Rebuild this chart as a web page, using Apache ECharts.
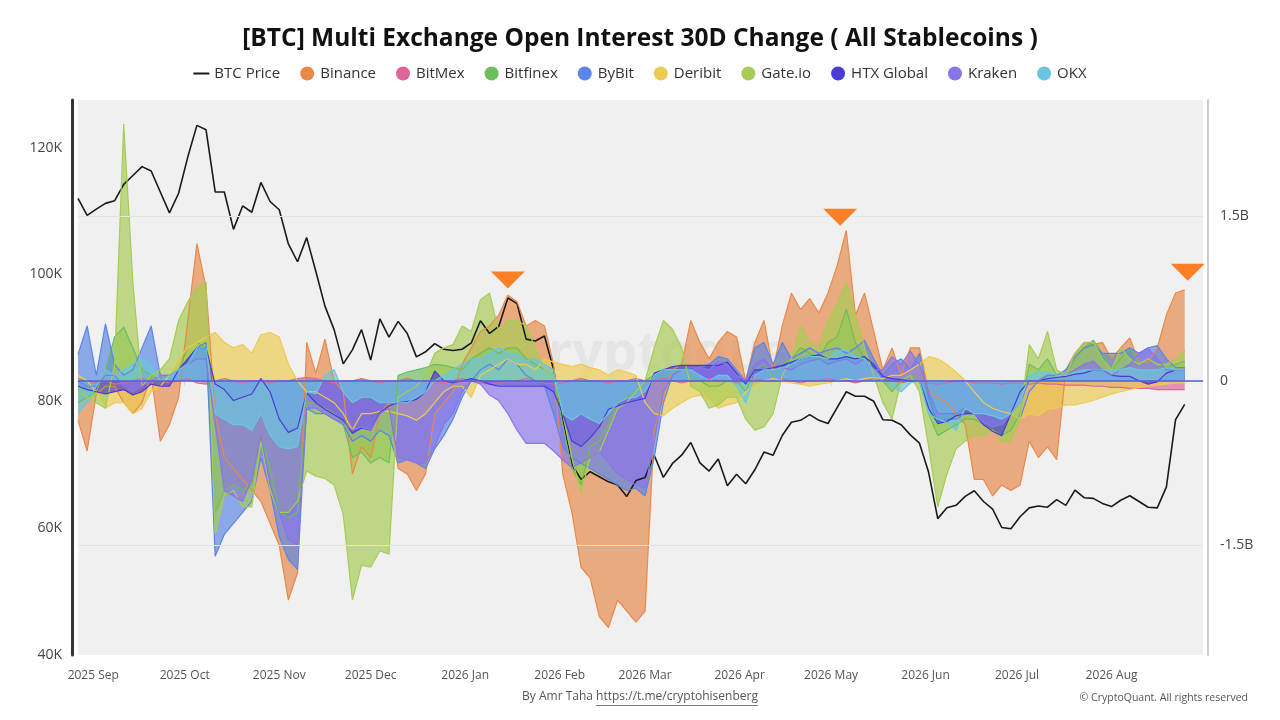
<!DOCTYPE html>
<html>
<head>
<meta charset="utf-8">
<title>[BTC] Multi Exchange Open Interest 30D Change</title>
<script src="https://cdn.jsdelivr.net/npm/echarts@6/dist/echarts.min.js"></script>
<style>
    html, body { margin: 0; padding: 0; background: #fff; }
    #chart { width: 1280px; height: 720px; }
</style>
</head>
<body>
<div id="chart"></div>
<script>
    "use strict";
    // sampling grid: one point every 3 days from 2025-08-27
    var startDate = [2025, 7, 27];
    var stepDays = 3;
    var pointCount = 122;

    var monthNames = ["Jan", "Feb", "Mar", "Apr", "May", "Jun", "Jul", "Aug", "Sep", "Oct", "Nov", "Dec"];

    // BTC price, thousands of USD
    var btcPrice = [
        112.0, 109.3, 110.3, 111.2, 111.6, 114.2, 115.6, 117.0, 116.3, 113.0,
        109.7, 112.8, 118.5, 123.5, 122.8, 113.0, 113.0, 107.1, 110.8, 109.8,
        114.5, 111.5, 110.2, 104.8, 102.0, 105.8, 100.5, 95.0, 91.3, 85.9,
        88.1, 91.3, 86.5, 93.0, 90.1, 92.6, 90.7, 87.0, 87.8, 89.1,
        88.2, 88.0, 88.2, 89.2, 92.7, 90.7, 91.8, 96.3, 95.4, 89.8,
        89.5, 90.3, 85.0, 77.0, 70.0, 67.7, 68.9, 68.1, 67.3, 66.8,
        65.0, 67.5, 68.0, 71.5, 68.0, 70.2, 71.5, 73.5, 70.3, 69.0,
        70.9, 66.7, 68.5, 67.0, 69.2, 72.0, 71.5, 74.6, 76.7, 77.0,
        77.9, 77.0, 76.5, 79.0, 81.5, 80.8, 80.8, 80.0, 77.1, 77.0,
        76.3, 74.7, 73.4, 68.8, 61.5, 63.2, 63.6, 65.0, 65.9, 64.2,
        63.0, 60.1, 59.9, 61.8, 63.2, 63.5, 63.3, 64.5, 63.6, 66.0,
        64.8, 64.7, 63.9, 63.4, 64.4, 65.1, 64.2, 63.3, 63.2, 66.5,
        77.1, 79.5
    ];

    // open interest 30D change, billions of USD
    var binance = [
        -0.36, -0.64, -0.12, -0.05, -0.05, -0.2, -0.3, -0.2, 0.05, -0.55,
        -0.4, -0.15, 0.55, 1.25, 0.85, -0.3, -0.7, -0.8, -0.9, -1.0,
        -1.1, -1.3, -1.5, -2.0, -1.75, 0.35, 0.07, 0.38, 0.0, -0.1,
        -0.85, -0.6, -0.7, -0.3, -0.2, -0.8, -0.85, -1.0, -0.85, -0.3,
        -0.2, -0.1, 0.15, 0.3, 0.45, 0.5, 0.6, 0.78, 0.72, 0.5,
        0.55, 0.5, 0.15, -0.85, -1.2, -1.7, -1.8, -2.15, -2.25, -2.0,
        -2.1, -2.2, -2.1, -0.45, -0.15, 0.1, 0.15, 0.55, 0.35, 0.2,
        0.35, 0.45, 0.4, 0.0, 0.35, 0.55, 0.1, 0.5, 0.8, 0.65,
        0.75, 0.62, 0.8, 1.05, 1.37, 0.6, 0.8, 0.45, 0.1, 0.3,
        0.05, 0.3, 0.3, -0.1, -0.15, -0.2, -0.3, -0.4, -0.9, -0.9,
        -1.05, -0.95, -1.0, -0.95, -0.55, -0.7, -0.6, -0.72, 0.1, 0.25,
        0.35, 0.33, 0.35, 0.2, 0.3, 0.39, 0.17, 0.17, 0.3, 0.6,
        0.8, 0.83
    ];
    var bitmex = [
        0.02, 0.0, -0.02, 0.0, -0.03, -0.02, 0.0, 0.02, 0.0, 0.0,
        -0.02, 0.0, 0.02, -0.02, -0.03, 0.0, 0.02, 0.0, -0.02, 0.0,
        0.0, -0.02, 0.0, 0.0, 0.02, 0.03, 0.02, 0.0, -0.02, 0.0,
        0.0, 0.02, 0.0, -0.02, 0.0, 0.0, 0.02, 0.0, 0.0, -0.02,
        -0.02, 0.0, 0.02, 0.0, -0.02, -0.03, -0.02, 0.0, 0.0, 0.02,
        0.0, -0.02, -0.03, -0.02, 0.0, 0.02, 0.0, 0.0, -0.02, 0.0,
        0.0, 0.02, 0.0, 0.0, 0.02, 0.0, -0.02, 0.0, 0.0, 0.02,
        0.0, 0.0, -0.02, 0.0, 0.02, 0.0, 0.0, 0.02, 0.0, -0.02,
        0.0, 0.0, 0.02, 0.0, 0.0, -0.02, 0.0, 0.02, 0.0, 0.0,
        -0.02, 0.0, 0.0, -0.02, -0.03, -0.02, 0.0, 0.0, -0.02, -0.02,
        -0.02, -0.03, -0.02, -0.02, -0.03, -0.02, -0.03, -0.03, -0.04, -0.04,
        -0.04, -0.05, -0.05, -0.06, -0.06, -0.07, -0.07, -0.07, -0.08, -0.08,
        -0.08, -0.08
    ];
    var bitfinex = [
        -0.2, -0.15, -0.1, 0.1, 0.4, 0.49, 0.3, 0.1, 0.05, 0.0,
        0.05, 0.1, 0.3, 0.35, 0.3, -1.2, -1.0, -0.95, -1.0, -0.95,
        -0.5, -0.8, -1.2, -1.25, -1.2, -0.2, -0.2, -0.25, -0.3, -0.4,
        -0.7, -0.65, -0.75, -0.7, -0.75, 0.05, 0.08, 0.1, 0.12, 0.15,
        0.14, 0.12, 0.1, 0.2, 0.25, 0.3, 0.25, 0.3, 0.3, 0.2,
        0.15, 0.1, 0.05, -0.4, -0.8, -0.95, -0.6, -0.55, -0.4, -0.2,
        -0.15, -0.1, 0.0, 0.05, 0.1, 0.1, 0.1, 0.05, 0.0, -0.05,
        -0.05, 0.0, 0.0, -0.1, 0.1, 0.15, 0.05, 0.15, 0.2, 0.3,
        0.25, 0.2, 0.35, 0.4, 0.65, 0.35, 0.2, 0.1, 0.0, -0.1,
        0.0, 0.05, 0.0, -0.3, -0.5, -0.45, -0.4, -0.35, -0.35, -0.4,
        -0.45, -0.5, -0.45, -0.3, 0.15, 0.1, 0.2, 0.05, 0.05, 0.2,
        0.3, 0.37, 0.25, 0.1, 0.2, 0.3, 0.15, 0.2, 0.15, 0.12,
        0.15, 0.18
    ];
    var bybit = [
        0.24, 0.5, 0.05, 0.52, 0.15, 0.05, 0.1, 0.3, 0.5, 0.05,
        0.05, 0.1, 0.2, 0.3, 0.35, -1.6, -1.4, -1.3, -1.2, -1.1,
        -0.7, -1.0, -1.42, -1.63, -1.72, -0.25, -0.3, -0.3, -0.35, -0.4,
        -0.55, -0.5, -0.55, -0.45, -0.5, -0.75, -0.72, -0.75, -0.8, -0.62,
        -0.5, -0.35, -0.15, 0.0, 0.1, 0.15, 0.1, 0.2, 0.15, 0.05,
        0.0, -0.05, -0.3, -0.6, -0.7, -0.75, -0.8, -0.85, -0.9, -0.95,
        -1.0, -0.98, -1.05, -0.7, -0.2, 0.05, 0.1, 0.12, 0.12, 0.15,
        0.22, 0.2, 0.1, 0.0, 0.3, 0.35, 0.15, 0.35, 0.2, 0.25,
        0.3, 0.25, 0.28, 0.3, 0.25, 0.3, 0.37, 0.2, 0.05, 0.15,
        0.2, 0.1, 0.25, -0.15, -0.39, -0.35, -0.35, -0.3, -0.3, -0.4,
        -0.37, -0.4, -0.3, -0.35, -0.1, 0.0, 0.05, 0.05, 0.1, 0.22,
        0.3, 0.33, 0.25, 0.25, 0.25, 0.3, 0.25, 0.3, 0.32, 0.2,
        0.12, 0.12
    ];
    var deribit = [
        0.05, 0.0, -0.1, -0.25, -0.2, -0.2, -0.3, -0.25, -0.1, -0.05,
        0.05, 0.2, 0.3, 0.35, 0.4, 0.44, 0.35, 0.3, 0.33, 0.25,
        0.42, 0.44, 0.4, 0.15, 0.0, -0.1, -0.1, -0.15, -0.2, -0.3,
        -0.45, -0.3, -0.3, -0.28, -0.28, -0.3, -0.32, -0.36, -0.3, -0.2,
        -0.1, -0.05, -0.05, -0.15, 0.05, 0.1, 0.15, 0.2, 0.15, 0.15,
        0.1, 0.2, 0.17, 0.15, 0.13, 0.15, 0.12, 0.1, 0.05, 0.1,
        0.08, 0.05, -0.2, -0.3, -0.32, -0.25, -0.2, -0.15, -0.13, -0.18,
        -0.25, -0.22, -0.2, -0.1, -0.05, 0.0, 0.02, 0.0, -0.02, -0.03,
        -0.05, -0.03, -0.02, 0.0, 0.02, 0.0, 0.02, 0.03, 0.02, 0.05,
        0.05, 0.1, 0.15, 0.22, 0.2, 0.15, 0.08, 0.0, -0.1, -0.2,
        -0.25, -0.28, -0.3, -0.35, -0.3, -0.32, -0.26, -0.25, -0.22, -0.22,
        -0.2, -0.18, -0.15, -0.12, -0.1, -0.08, -0.06, -0.05, -0.04, -0.03,
        -0.02, -0.02
    ];
    var gateio = [
        -0.1, -0.15, -0.2, -0.25, 0.15, 2.34, 0.9, -0.05, 0.05, 0.1,
        0.2, 0.55, 0.72, 0.85, 0.9, -1.4, -1.05, -1.0, -1.15, -1.15,
        -0.55, -1.0, -1.2, -1.2, -1.1, -0.82, -0.87, -0.89, -0.95, -1.22,
        -2.0, -1.68, -1.7, -1.55, -1.58, -0.15, -0.1, -0.05, 0.05, 0.25,
        0.3, 0.33, 0.5, 0.45, 0.74, 0.8, 0.45, 0.55, 0.55, 0.5,
        0.3, 0.1, 0.05, -0.3, -0.7, -1.02, -0.7, -0.65, -0.45, -0.25,
        -0.2, -0.1, 0.0, 0.3, 0.55, 0.47, 0.3, -0.05, -0.1, -0.25,
        -0.22, -0.15, -0.15, -0.35, -0.45, -0.42, -0.3, 0.05, 0.2, 0.5,
        0.35, 0.3, 0.55, 0.7, 0.9, 0.6, 0.3, 0.05, -0.2, -0.35,
        0.0, 0.05, -0.1, -0.6, -1.15, -0.85, -0.62, -0.55, -0.5, -0.5,
        -0.45, -0.56, -0.55, -0.35, 0.33, 0.2, 0.45, 0.1, 0.05, 0.25,
        0.35, 0.35, 0.2, 0.1, 0.3, 0.2, 0.15, 0.2, 0.15, 0.15,
        0.2, 0.28
    ];
    var htx = [
        -0.05, -0.08, -0.1, -0.12, -0.1, -0.08, -0.13, -0.1, -0.03, -0.05,
        -0.05, 0.1, 0.2, 0.3, 0.3, -0.03, -0.08, -0.18, -0.15, -0.12,
        0.02, -0.1, -0.35, -0.47, -0.43, -0.11, -0.2, -0.26, -0.31, -0.36,
        -0.48, -0.43, -0.45, -0.29, -0.23, -0.2, -0.19, -0.17, -0.1, 0.09,
        0.0, -0.02, 0.0, 0.02, 0.0, -0.03, -0.05, -0.05, -0.05, -0.05,
        -0.05, -0.05, -0.1, -0.3, -0.55, -0.6, -0.52, -0.42, -0.26, -0.23,
        -0.2, -0.18, -0.16, 0.07, 0.1, 0.13, 0.14, 0.14, 0.14, 0.14,
        0.14, 0.17, 0.07, -0.03, 0.1, 0.1, 0.12, 0.14, 0.17, 0.2,
        0.22, 0.24, 0.2, 0.2, 0.22, 0.2, 0.22, 0.15, 0.04, 0.02,
        0.01, 0.0, 0.0, -0.25, -0.39, -0.37, -0.32, -0.3, -0.3, -0.4,
        -0.46, -0.5, -0.3, -0.1, 0.0, 0.0, 0.02, 0.03, 0.04, 0.06,
        0.07, 0.1, 0.1, 0.05, 0.04, 0.04, 0.0, -0.03, -0.01, 0.07,
        0.1, 0.1
    ];
    var kraken = [
        0.0, -0.05, -0.05, 0.05, 0.05, -0.05, -0.1, -0.05, 0.0, 0.05,
        0.05, 0.1, 0.15, 0.2, 0.2, -0.4, -1.0, -1.05, -1.1, -0.9,
        -0.5, -0.95, -1.2, -1.45, -1.5, -0.25, -0.25, -0.3, -0.35, -0.38,
        -0.45, -0.42, -0.45, -0.3, -0.25, -0.7, -0.72, -0.75, -0.75, -0.6,
        -0.4, -0.3, -0.1, 0.0, -0.03, -0.13, -0.18, -0.3, -0.45, -0.57,
        -0.57, -0.57, -0.64, -0.72, -0.79, -0.75, -0.7, -0.65, -0.75, -0.85,
        -0.9, -0.95, -0.98, -0.55, -0.1, 0.05, 0.1, 0.1, 0.12, 0.1,
        0.18, 0.15, 0.05, 0.0, 0.15, 0.2, 0.1, 0.12, 0.1, 0.15,
        0.18, 0.2, 0.15, 0.18, 0.2, 0.15, 0.2, 0.1, 0.1, 0.22,
        0.15, 0.27, 0.15, -0.1, -0.3, -0.3, -0.3, -0.25, -0.3, -0.38,
        -0.42, -0.4, -0.3, -0.2, 0.0, 0.0, 0.05, 0.05, 0.05, 0.1,
        0.15, 0.18, 0.1, 0.05, 0.1, 0.15, 0.25, 0.3, 0.2, 0.1,
        0.1, 0.1
    ];
    var okx = [
        -0.3, -0.2, -0.05, 0.1, 0.05, 0.1, 0.15, 0.2, 0.15, 0.0,
        0.05, 0.1, 0.15, 0.3, 0.3, -0.3, -0.35, -0.4, -0.4, -0.45,
        -0.3, -0.5, -0.6, -0.62, -0.6, -0.1, -0.12, 0.05, 0.1, -0.1,
        -0.2, -0.15, -0.15, -0.2, -0.2, -0.2, -0.2, -0.15, -0.1, 0.0,
        0.05, 0.1, 0.15, 0.2, 0.2, 0.25, 0.3, 0.25, 0.25, 0.18,
        0.2, 0.15, 0.1, -0.3, -0.36, -0.3, -0.35, -0.39, -0.3, -0.2,
        -0.16, -0.15, -0.1, 0.05, 0.1, 0.1, 0.1, 0.1, 0.05, 0.0,
        0.05, 0.05, -0.05, -0.2, 0.05, 0.1, 0.1, 0.12, 0.15, 0.2,
        0.22, 0.22, 0.2, 0.27, 0.28, 0.22, 0.2, 0.1, 0.0, -0.05,
        -0.1, -0.02, 0.0, -0.3, -0.35, -0.38, -0.45, -0.25, -0.3, -0.3,
        -0.32, -0.35, -0.3, -0.2, 0.05, 0.08, 0.08, 0.05, 0.05, 0.08,
        0.1, 0.1, 0.1, 0.1, 0.1, 0.12, 0.1, 0.1, 0.1, 0.12,
        0.1, 0.1
    ];

    var exchangeNames = ["Binance", "BitMex", "Bitfinex", "ByBit", "Deribit", "Gate.io", "HTX Global", "Kraken", "OKX"];
    var exchangeColors = ["#E8894A", "#E0649C", "#6DBE5E", "#5B86E5", "#EDCB50", "#A7CB54", "#4B3BD6", "#8A74EA", "#6AC6E0"];
    var exchangeValues = [binance, bitmex, bitfinex, bybit, deribit, gateio, htx, kraken, okx];

    // orange down-pointing markers above the Binance peaks
    var annoDates = ["2026-01-15", "2026-05-04", "2026-08-26"];
    var annoValues = [0.92, 1.49, 0.99];

    var fontFamily = '"Open Sans", "Noto Sans", sans-serif';

    function pad(n) {
        return n < 10 ? "0" + n : "" + n;
    }

    var dates = [];
    for (var i = 0; i < pointCount; i++) {
        var d = new Date(startDate[0], startDate[1], startDate[2] + i * stepDays);
        dates.push(d.getFullYear() + "-" + pad(d.getMonth() + 1) + "-" + pad(d.getDate()));
    }

    function pairs(values) {
        return dates.map(function (date, index) {
            return [date, values[index]];
        });
    }

    var series = [{
        name: "BTC Price",
        type: "line",
        yAxisIndex: 0,
        data: pairs(btcPrice),
        showSymbol: false,
        symbol: "none",
        lineStyle: { color: "#1a1a1a", width: 1.6 },
        itemStyle: { color: "#1a1a1a" }
    }, {
        // empty helper carrying the faint +-1.5B grid lines
        name: "gridlines",
        type: "line",
        yAxisIndex: 1,
        data: [],
        markLine: {
            silent: true,
            symbol: "none",
            label: { show: false },
            lineStyle: { color: "#e2e2e2", width: 1, type: "solid" },
            data: [{ yAxis: 1.5 }, { yAxis: -1.5 }]
        }
    }];

    exchangeNames.forEach(function (name, k) {
        series.push({
            name: name,
            type: "line",
            yAxisIndex: 1,
            data: pairs(exchangeValues[k]),
            showSymbol: false,
            symbol: "none",
            lineStyle: { color: exchangeColors[k], width: 1.2 },
            itemStyle: { color: exchangeColors[k] },
            areaStyle: { color: exchangeColors[k], opacity: 0.68 }
        });
    });

    series[series.length - 1].markLine = {
        silent: true,
        symbol: "none",
        label: { show: false },
        lineStyle: { color: "#5461d8", width: 1.6, type: "solid" },
        data: [{ yAxis: 0 }]
    };

    series.push({
        name: "markers",
        type: "scatter",
        yAxisIndex: 1,
        data: annoDates.map(function (date, index) {
            return [date, annoValues[index]];
        }),
        symbol: "triangle",
        symbolRotate: 180,
        symbolSize: [34, 17],
        itemStyle: { color: "#FF7F27", opacity: 1 },
        z: 5
    });

    // thin dash for the price line, circles for the exchanges
    var lineIcon = "path://M0,0 L0.01,0 L0.01,0.01 Z M0,6 L16,6 L16,8 L0,8 Z M16,14 L15.99,14 L15.99,13.99 Z";
    var legendData = [{ name: "BTC Price", icon: lineIcon }].concat(exchangeNames.map(function (name) {
        return { name: name, icon: "circle" };
    }));

    var chart = echarts.init(document.getElementById("chart"), null, { renderer: "canvas" });

    // footer with underlined link
    var measure = document.createElement("canvas").getContext("2d");
    measure.font = "12px " + fontFamily;
    var byText = "By Amr Taha ";
    var linkText = "https://t.me/cryptohisenberg";
    var byWidth = measure.measureText(byText).width;
    var linkWidth = measure.measureText(linkText).width;
    var footerLeft = 640 - (byWidth + linkWidth) / 2;

    chart.setOption({
        animation: false,
        backgroundColor: "#ffffff",
        textStyle: { fontFamily: fontFamily },
        title: {
            text: "[BTC] Multi Exchange Open Interest 30D Change ( All Stablecoins )",
            left: "center",
            top: 22,
            textStyle: { fontSize: 24.5, fontWeight: "bold", color: "#111", fontFamily: fontFamily }
        },
        legend: {
            data: legendData,
            top: 61,
            left: "center",
            itemWidth: 16,
            itemHeight: 14,
            itemGap: 20,
            textStyle: { fontSize: 15, color: "#333", fontFamily: fontFamily }
        },
        grid: {
            left: 78,
            right: 77,
            top: 100,
            bottom: 65,
            show: true,
            backgroundColor: "#f0f0f0",
            borderWidth: 0
        },
        xAxis: {
            type: "time",
            min: "2025-08-27",
            max: "2026-08-31",
            minInterval: 28 * 86400000,
            maxInterval: 31 * 86400000,
            axisLine: { show: true, lineStyle: { color: "#d4d4d4" } },
            axisTick: { show: true, length: 5, lineStyle: { color: "#d4d4d4" } },
            splitLine: { show: false },
            axisLabel: {
                color: "#555",
                fontSize: 12,
                margin: 15,
                hideOverlap: false,
                formatter: function (value) {
                    var dt = new Date(value);
                    if (dt.getDate() !== 1 || dt.getHours() !== 0) {
                        return "";
                    }
                    return dt.getFullYear() + " " + monthNames[dt.getMonth()];
                }
            }
        },
        yAxis: [{
            type: "value",
            position: "left",
            min: 40,
            max: 127.5,
            interval: 20,
            offset: 6,
            axisLine: { show: true, lineStyle: { color: "#333", width: 3 } },
            axisTick: { show: false },
            splitLine: { show: false },
            axisLabel: {
                color: "#444",
                fontSize: 14,
                margin: 10,
                formatter: function (v) {
                    return v % 20 === 0 ? v + "K" : "";
                }
            }
        }, {
            type: "value",
            position: "right",
            min: -2.5,
            max: 2.56,
            interval: 0.5,
            offset: 5,
            axisLine: { show: true, lineStyle: { color: "#cccccc", width: 2 } },
            axisTick: { show: false },
            splitLine: { show: false },
            axisLabel: {
                color: "#444",
                fontSize: 14,
                margin: 12,
                formatter: function (v) {
                    if (Math.abs(v) < 1e-9) return "0";
                    if (Math.abs(v - 1.5) < 1e-9) return "1.5B";
                    if (Math.abs(v + 1.5) < 1e-9) return "-1.5B";
                    return "";
                }
            }
        }],
        graphic: [{
            type: "text",
            left: 520,
            top: 328,
            z: 1,
            silent: true,
            style: {
                text: "cryptoquant",
                fontSize: 54,
                fontWeight: "bold",
                fontFamily: fontFamily,
                fill: "rgba(0,0,0,0.045)"
            }
        }, {
            type: "text",
            x: footerLeft,
            y: 691,
            style: { text: byText, fontSize: 12, fontFamily: fontFamily, fill: "#555" }
        }, {
            type: "text",
            x: footerLeft + byWidth,
            y: 691,
            style: { text: linkText, fontSize: 12, fontFamily: fontFamily, fill: "#555" }
        }, {
            type: "line",
            shape: { x1: footerLeft + byWidth, y1: 705.5, x2: footerLeft + byWidth + linkWidth, y2: 705.5 },
            style: { stroke: "#777", lineWidth: 1 }
        }, {
            type: "text",
            right: 32,
            y: 693,
            style: { text: "\u00a9 CryptoQuant. All rights reserved", fontSize: 10.5, fontFamily: fontFamily, fill: "#555" }
        }],
        series: series
    });
</script>
</body>
</html>
